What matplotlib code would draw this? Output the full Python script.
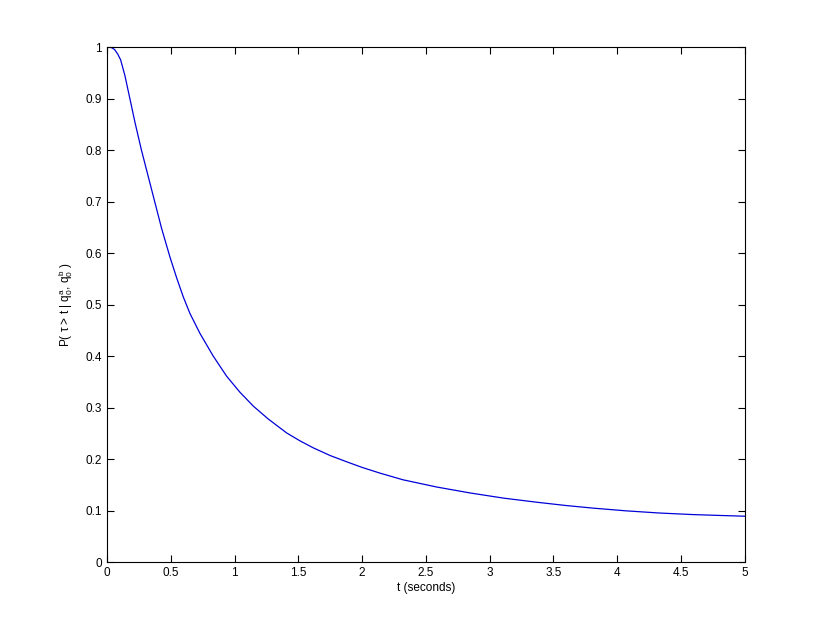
import numpy as np
import matplotlib
matplotlib.use('Agg')
import matplotlib.pyplot as plt

# values
t_vals = [0, 0.035, 0.06, 0.085, 0.107, 0.14, 0.175, 0.22, 0.27, 0.324, 0.376, 0.428,
          0.494, 0.546, 0.598, 0.65, 0.729, 0.833, 0.938, 1.042, 1.147, 1.264,
          1.408, 1.51, 1.617, 1.75, 1.878, 2.0, 2.139, 2.32, 2.584, 2.845, 3.106, 3.367,
          3.6, 3.81, 4.07, 4.33, 4.59, 4.8, 5.0]
p_vals = [1.0, 0.999, 0.995, 0.986, 0.975, 0.945, 0.905, 0.853, 0.8, 0.748, 0.698, 0.648,
          0.592, 0.552, 0.515, 0.483, 0.444, 0.400, 0.361, 0.330, 0.303, 0.278,
          0.251, 0.236, 0.222, 0.207, 0.195, 0.184, 0.173, 0.160, 0.146, 0.1345, 0.1245, 0.1165,
          0.110, 0.105, 0.0997, 0.0955, 0.0925, 0.0908, 0.0893]

x_ticks = np.arange(0, 5.01, 0.5)
y_ticks = np.arange(0, 1.01, 0.1)

plt.rcParams['font.family'] = ['Liberation Sans', 'DejaVu Sans']
plt.rcParams['mathtext.fontset'] = 'custom'
plt.rcParams['mathtext.rm'] = 'Liberation Sans'
plt.rcParams['mathtext.it'] = 'Liberation Sans'

fig = plt.figure(figsize=(8.23, 6.31), dpi=100)
ax = fig.add_axes([0.130, 0.109, 0.775, 0.8165])
ax.plot(t_vals, p_vals, color=(0, 0, 0.85), linewidth=0.9)

ax.set_xlim(0, 5)
ax.set_ylim(0, 1)
ax.set_xticks(x_ticks)
ax.set_yticks(y_ticks)
ax.set_xticklabels(['%g' % v for v in x_ticks])
ax.set_yticklabels(['%g' % round(v, 1) for v in y_ticks])
ax.tick_params(direction='in', top=True, right=True, labelsize=8.5, length=5, width=0.8)
for s in ax.spines.values():
    s.set_linewidth(0.8)

ax.set_xlabel('t (seconds)', fontsize=8.5, labelpad=2)
ax.set_ylabel(r'P( $\tau$ > t | $q_0^a$, $q_0^b$ )', fontsize=8.5, labelpad=8)

fig.savefig('out.png', dpi=100)
